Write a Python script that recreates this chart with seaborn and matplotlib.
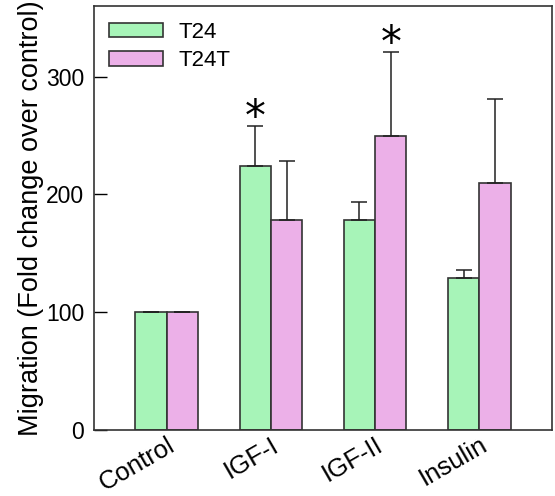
import matplotlib
matplotlib.use("Agg")
import matplotlib.pyplot as plt
import numpy as np
import pandas as pd
import seaborn as sns

# data
treatments = ["Control", "IGF-I", "IGF-II", "Insulin"]
t24_mean = [100, 224, 178, 129]
t24_err = [0, 34, 16, 7]
t24t_mean = [100, 178, 250, 210]
t24t_err = [0, 50, 71, 71]
# significance marks: (treatment, cell line)
stars = [("IGF-I", "T24"), ("IGF-II", "T24T")]

df = pd.DataFrame({
    "treatment": treatments * 2,
    "cell": ["T24"] * 4 + ["T24T"] * 4,
    "migration": t24_mean + t24t_mean,
    "err": t24_err + t24t_err,
})

sns.set_style("white")
plt.rcParams["font.family"] = ["Liberation Sans", "DejaVu Sans"]
plt.rcParams.update({"text.color": "black", "axes.labelcolor": "black",
                     "xtick.color": "black", "ytick.color": "black"})

fig = plt.figure(figsize=(5.55, 4.96), dpi=100)
ax = fig.add_axes([0.169, 0.133, 0.826, 0.855])

palette = {"T24": "#a7f4b8", "T24T": "#ecb0e8"}
sns.barplot(data=df, x="treatment", y="migration", hue="cell", palette=palette,
            width=0.6, edgecolor="#333333", linewidth=1.2, errorbar=None,
            saturation=1, ax=ax)

# one-sided error bars on top of each bar
for cont, cell in zip(ax.containers, ["T24", "T24T"]):
    sub = df[df["cell"] == cell]
    xs = [b.get_x() + b.get_width() / 2 for b in cont]
    errs = sub["err"].to_numpy()
    ys = sub["migration"].to_numpy()
    ax.errorbar(xs, ys, yerr=[np.zeros_like(errs), errs], fmt="none",
                ecolor="#222222", elinewidth=1.1, capsize=6, capthick=1.1, zorder=1)
    for (tr, c) in stars:
        if c == cell:
            i = treatments.index(tr)
            ax.text(xs[i], ys[i] + errs[i] + 7, "*", ha="center", va="center",
                    fontsize=30, color="black", family="DejaVu Sans")

ax.set_xlim(-0.7, 3.7)
ax.set_ylim(0, 360)
ax.set_yticks([0, 100, 200, 300])
ax.set_xlabel("")
ax.set_ylabel("Migration (Fold change over control)", fontsize=19.5, labelpad=1)
ax.tick_params(axis="y", direction="in", length=9, width=1, labelsize=16.5, left=True, pad=7)
ax.tick_params(axis="x", length=0, labelsize=18.5, pad=2)
for lab in ax.get_xticklabels():
    lab.set_rotation(30)
    lab.set_ha("right")
    lab.set_rotation_mode("anchor")

for s in ax.spines.values():
    s.set_color("#333333")
    s.set_linewidth(1.2)

ax.legend(title=None, loc="upper left", frameon=False, fontsize=16,
          handlelength=2.4, handleheight=0.6, labelspacing=0.35,
          borderaxespad=0.3, handletextpad=0.7)

fig.savefig("out.png", dpi=100)
